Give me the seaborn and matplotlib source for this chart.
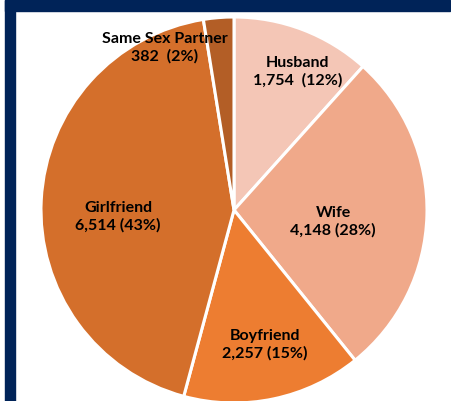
"""Pie chart: relationship of partner (counts and shares)."""

import matplotlib.pyplot as plt
import seaborn as sns
from matplotlib.patches import Rectangle

categories = ["Husband", "Wife", "Boyfriend", "Girlfriend", "Same Sex Partner"]
counts = [1754, 4148, 2257, 6514, 382]
pct_labels = ["1,754  (12%)", "4,148 (28%)", "2,257 (15%)", "6,514 (43%)", "382  (2%)"]
colors = ["#F4C6B6", "#F0A98A", "#ED7D31", "#D46F2B", "#B35E26"]

sns.set_theme(style="white")
plt.rcParams["font.family"] = ["Lato", "DejaVu Sans"]

W, H = 452, 401
CX, CY, R = 234, 210, 193  # pie centre (px from top-left) and radius

fig = plt.figure(figsize=(W / 100, H / 100), dpi=100)
ax = fig.add_axes([0, 0, 1, 1])

ax.pie(
    counts,
    colors=colors,
    startangle=90,
    counterclock=False,
    radius=1.0,
    wedgeprops={"edgecolor": "white", "linewidth": 2.2},
)
ax.set_aspect("auto")
ax.set_xlim(-CX / R, (W - CX) / R)
ax.set_ylim(-(H - CY) / R, CY / R)
ax.axis("off")

# label anchor points in pixels
label_px = [(298, 72), (333, 222), (265, 345), (118, 217), (165, 48)]
for name, txt, (px, py) in zip(categories, pct_labels, label_px):
    ax.text(
        (px - CX) / R,
        (CY - py) / R,
        f"{name}\n{txt}",
        ha="center",
        va="center",
        fontsize=11.5,
        fontweight="bold",
        color="black",
        linespacing=1.3,
    )

navy = "#002358"
fig.patches.append(Rectangle((5 / W, 1 - 11 / H), 445 / W, 11 / H,
                             transform=fig.transFigure, color=navy, zorder=5))
fig.patches.append(Rectangle((5 / W, 0), 10 / W, 1,
                             transform=fig.transFigure, color=navy, zorder=5))

plt.savefig("out.png", dpi=100)
plt.close()
